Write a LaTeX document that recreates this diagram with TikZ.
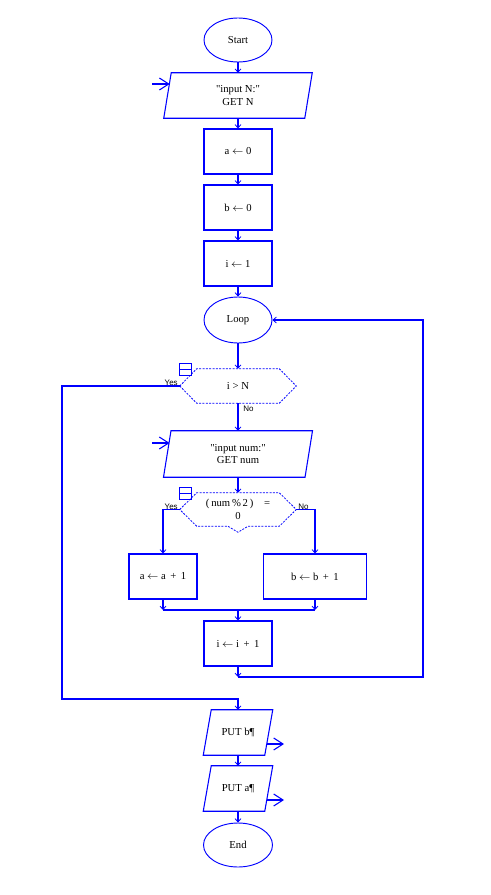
\documentclass[tikz,border=0pt]{standalone}
\usepackage{fontspec}
\setmainfont{Liberation Serif}
\newfontfamily\lblfont{Liberation Sans}
\usetikzlibrary{arrows.meta,shapes.geometric}
\newcommand\parashape[2]{\draw[fl] ([xshift=#2*0.75pt]#1.north west) -- ([xshift=#2*0.75pt]#1.north east) -- ([xshift=-#2*0.75pt]#1.south east) -- ([xshift=-#2*0.75pt]#1.south west) -- cycle;}
\newcommand\hexshape[1]{\draw[dl] (#1.west) -- ([xshift=17*0.75pt]#1.north west) -- ([xshift=-17*0.75pt]#1.north east) -- (#1.east) -- ([xshift=-17*0.75pt]#1.south east) -- ([xshift=17*0.75pt]#1.south west) -- cycle;}
\newcommand\hexvshape[1]{\draw[dl] (#1.west) -- ([xshift=17*0.75pt]#1.north west) -- ([xshift=-17*0.75pt]#1.north east) -- (#1.east) -- ([xshift=-17*0.75pt]#1.south east) -- ([xshift=10*0.75pt]#1.south) -- ([yshift=-6*0.75pt]#1.south) -- ([xshift=-10*0.75pt]#1.south) -- ([xshift=17*0.75pt]#1.south west) -- cycle;}
\newcommand\iconbox[1]{\draw[blue,line width=0.7pt] ([yshift=5*0.75pt]#1.north west) rectangle ++(12*0.75pt,-12*0.75pt); \draw[blue,line width=0.7pt] ([yshift=-1*0.75pt]#1.north west) -- ++(12*0.75pt,0);}
\begin{document}
\begin{tikzpicture}[x=0.75pt,y=-0.75pt,
  every node/.style={font=\fontsize{8}{9.5}\selectfont, inner sep=0pt, align=center},
  fl/.style={draw=blue, line width=0.8pt},
  dl/.style={draw=blue, line width=0.6pt, dash pattern=on 1.5pt off 1pt},
  ar/.style={fl, -{Straight Barb[length=2.5pt,width=4.5pt,line width=0.6pt]}},
  inar/.style={fl, -{Straight Barb[length=7pt,width=9pt,line width=0.8pt]}},
  rbox/.style={rectangle, draw=blue, line width=0.8pt, minimum width=#1*0.75pt, minimum height=45*0.75pt},
  tbox/.style 2 args={rectangle, minimum width=#1*0.75pt, minimum height=#2*0.75pt},
  oval/.style={ellipse, draw=blue, line width=0.7pt, minimum width=68*0.75pt, minimum height=44*0.75pt},
  lbl/.style={font=\lblfont\fontsize{6}{7}\selectfont}
]
\useasboundingbox (0,0) rectangle (490,895);

\node[oval] (start) at (238,40) {Start};
\node[tbox={140.5}{45}] (in1) at (238,95.5) {\textquotedbl input N:\textquotedbl\\GET N};
\parashape{in1}{3.75}
\node[rbox=68] (a0) at (238,151.5) {a $\leftarrow$ 0};
\node[rbox=68] (b0) at (238,207.5) {b $\leftarrow$ 0};
\node[rbox=68] (i1) at (238,263.5) {i $\leftarrow$ 1};
\node[oval, minimum height=46*0.75pt] (loop) at (238,320) {Loop};
\node[tbox={116}{34}] (d1) at (238,386) {i > N};
\hexshape{d1}
\iconbox{d1}
\node[tbox={141}{46}] (in2) at (238,454) {\textquotedbl input num:\textquotedbl\\GET num};
\parashape{in2}{3.75}
\node[tbox={116}{33}] (d2) at (238,509.5) {(\,num\,\%\,2\,)\quad =\\0};
\hexvshape{d2}
\iconbox{d2}
\node[rbox=68] (aa) at (163,576.5) {a $\leftarrow$ a\, +\, 1};
\node[rbox=103] (bb) at (315,576.5) {b $\leftarrow$ b\, +\, 1};
\node[rbox=68] (ii) at (238,643.5) {i $\leftarrow$ i\, +\, 1};
\node[tbox={61}{45}] (pb) at (238,732.5) {PUT b¶};
\parashape{pb}{4}
\node[tbox={61}{45}] (pa) at (238,788.5) {PUT a¶};
\parashape{pa}{4}
\node[oval, minimum width=69*0.75pt] (end) at (238,845) {End};

% labels
\node[lbl, anchor=south east] (y1) at (178,386) {Yes};
\node[lbl, anchor=north west] (n1) at (243,406) {No};
\node[lbl, anchor=south east] (y2) at (178,510) {Yes};
\node[lbl, anchor=south west] (n2) at (298,510) {No};

% main connectors
\draw[ar] (start.south) -- (in1.north);
\draw[ar] (in1.south) -- (a0.north);
\draw[ar] (a0.south) -- (b0.north);
\draw[ar] (b0.south) -- (i1.north);
\draw[ar] (i1.south) -- (loop.north);
\draw[ar] (loop.south) -- (d1.north);
\draw[ar] (d1.south) -- (in2.north);
\draw[ar] (in2.south) -- (d2.north);
\draw[ar] (d2.west) -| (aa.north);
\draw[ar] (d2.east) -| (bb.north);

% merge
\coordinate (m) at (238,610);
\draw[ar] (aa.south) -- (aa.south |- m);
\draw[ar] (bb.south) -- (bb.south |- m);
\draw[fl] (aa.south |- m) -- (bb.south |- m);
\draw[ar] (m) -- (ii.north);

% loop back
\coordinate (lb) at (238,677);
\coordinate (rr) at (423,677);
\draw[ar] (ii.south) -- (lb);
\draw[ar] (lb) -- (rr) |- (loop.east);

% yes exit
\coordinate (c1) at (62,699);
\draw[ar] (d1.west) -| (c1) -| (pb.north);

\draw[ar] (pb.south) -- (pa.north);
\draw[ar] (pa.south) -- (end.north);

% input/output arrows
\coordinate (inA) at (152,84);
\coordinate (inAe) at (169.7,84);
\draw[inar] (inA) -- (inAe);
\coordinate (inB) at (152,443);
\coordinate (inBe) at (169.6,443);
\draw[inar] (inB) -- (inBe);
\coordinate (outB) at (266.5,744);
\coordinate (outBe) at (284,744);
\draw[inar] (outB) -- (outBe);
\coordinate (outA) at (266.5,800);
\coordinate (outAe) at (284,800);
\draw[inar] (outA) -- (outAe);
\end{tikzpicture}
\end{document}
